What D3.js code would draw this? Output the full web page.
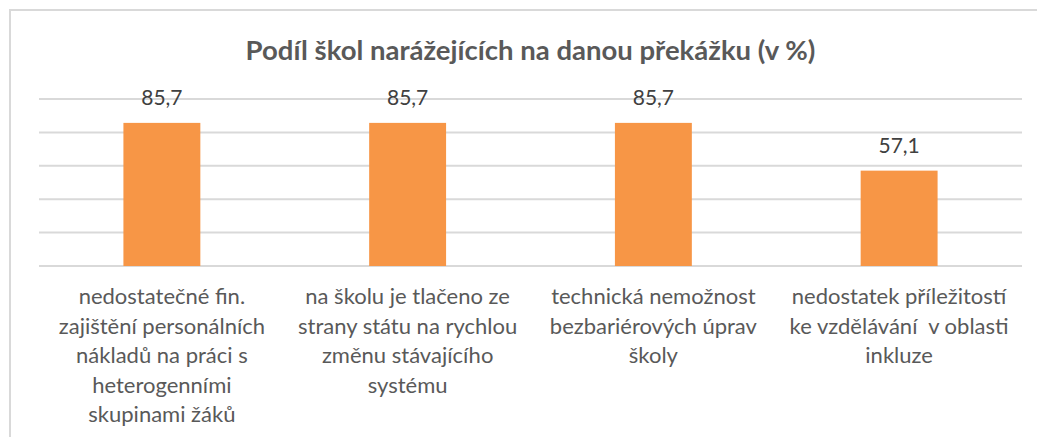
<!DOCTYPE html>
<meta charset="utf-8">
<head>
    <title>Podíl škol</title>
    <script type="text/javascript" src="https://d3js.org/d3.v7.min.js"></script>
    <style>
        body { margin: 0; background: #fff; }
        text { font-family: Lato, "Open Sans", sans-serif; }
    </style>
</head>
<body>
    <div id="chart"></div>
    <script>
        // chart data
        var categories = [
            "nedostatečné fin.\nzajištění personálních\nnákladů na práci s\nheterogenními\nskupinami žáků",
            "na školu je tlačeno ze\nstrany státu na rychlou\nzměnu stávajícího\nsystému",
            "technická nemožnost\nbezbariérových úprav\nškoly",
            "nedostatek příležitostí\nke vzdělávání  v oblasti\ninkluze"
        ];
        var values = [85.7, 85.7, 85.7, 57.1];
        var yTicks = [0, 20, 40, 60, 80, 100];
        var title = "Podíl škol narážejících na danou překážku (v %)";

        var width = 1037;
        var height = 437;
        var margin = { top: 99, left: 39, bottom: 171, right: 15 };

        var svg = d3.select("#chart").append("svg")
                    .attr("width", width)
                    .attr("height", height);

        // chart border (only top and left visible)
        svg.append("path")
           .attr("d", "M10," + height + "V10H" + width)
           .attr("fill", "none")
           .attr("stroke", "#d9d9d9")
           .attr("stroke-width", 2);

        var x = d3.scaleBand()
                  .domain(d3.range(categories.length))
                  .range([margin.left, width - margin.right]);

        var y = d3.scaleLinear()
                  .domain([0, 100])
                  .range([height - margin.bottom, margin.top]);

        // gridlines
        svg.append("g")
           .selectAll("line")
           .data(yTicks)
           .enter().append("line")
           .attr("x1", margin.left)
           .attr("x2", width - margin.right)
           .attr("y1", function(d) { return y(d); })
           .attr("y2", function(d) { return y(d); })
           .attr("stroke", "#d9d9d9")
           .attr("stroke-width", 2);

        var barW = x.bandwidth() * 0.313;

        svg.append("g")
           .selectAll("rect")
           .data(values)
           .enter().append("rect")
           .attr("x", function(d, i) { return x(i) + (x.bandwidth() - barW) / 2; })
           .attr("y", function(d) { return y(d); })
           .attr("width", barW)
           .attr("height", function(d) { return y(0) - y(d); })
           .attr("fill", "#f79646");

        // value labels
        svg.append("g")
           .selectAll("text")
           .data(values)
           .enter().append("text")
           .attr("x", function(d, i) { return x(i) + x.bandwidth() / 2; })
           .attr("y", function(d) { return y(d) - 18; })
           .attr("text-anchor", "middle")
           .attr("font-size", "21px")
           .attr("fill", "#404040")
           .text(function(d) { return d3.format(".1f")(d).replace(".", ","); });

        // category labels
        var cats = svg.append("g")
                      .selectAll("text")
                      .data(categories)
                      .enter().append("text")
                      .attr("text-anchor", "middle")
                      .attr("font-size", "22px")
                      .attr("fill", "#595959")
                      .style("white-space", "pre");

        cats.selectAll("tspan")
            .data(function(d, i) { return d.split("\n").map(function(t) { return { t: t, i: i }; }); })
            .enter().append("tspan")
            .attr("x", function(d) { return x(d.i) + x.bandwidth() / 2; })
            .attr("y", function(d, j) { return y(0) + 38 + j * 29.5; })
            .text(function(d) { return d.t; });

        // title
        svg.append("text")
           .attr("x", (margin.left + width - margin.right) / 2)
           .attr("y", 60)
           .attr("text-anchor", "middle")
           .attr("font-size", "27.5px")
           .attr("font-weight", "bold")
           .attr("fill", "#595959")
           .text(title);
    </script>
</body>
</html>
